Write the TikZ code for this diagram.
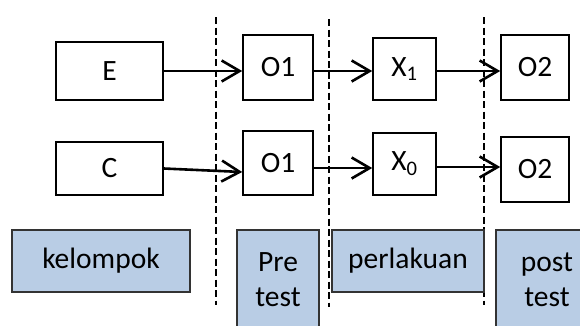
\documentclass[tikz,border=0pt]{standalone}
\usepackage{fontspec}
\setmainfont{Carlito}
\usetikzlibrary{arrows.meta}
\definecolor{labelblue}{HTML}{B9CDE5}

\begin{document}
\begin{tikzpicture}
[x=1pt, y=-1pt,
% Box style
	box/.style={
		draw,
		line width=1.6pt,
		inner sep=0pt,
		font=\fontsize{29.5}{35}\selectfont},
% Label box style
	labelbox/.style={
		box,
		fill=labelblue,
		draw=black!80,
		align=center},
% Line with Arrow style
	arrowline/.style={
		line width=2.6pt,
		-{Straight Barb[length=18pt,width=21pt,line width=2.6pt]}},
% Dashed separator style
	divider/.style={
		line width=2pt,
		dash pattern=on 7pt off 3.5pt},
]

\useasboundingbox (0,0) rectangle (580,325);

% Dashed separators
\coordinate (d1top) at (216,17);
\coordinate (d1bot) at (216,305);
\coordinate (d2top) at (329,19);
\coordinate (d2bot) at (329,307);
\coordinate (d3top) at (484,17);
\coordinate (d3bot) at (484,305);

\draw [divider] (d1top) -- (d1bot);
\draw [divider] (d2top) -- (d2bot);
\draw [divider] (d3top) -- (d3bot);

% Group boxes
\node[box, minimum width=107pt, minimum height=58pt] (E) at (109.5,71) {E};
\node[box, minimum width=107pt, minimum height=53pt] (C) at (109.5,168.5) {C};

% Pre test boxes
\node[box, minimum width=70pt, minimum height=65pt] (O1a) at (278,67.5) {O1};
\node[box, minimum width=70pt, minimum height=64pt] (O1b) at (278,163) {O1};

% Treatment boxes
\node[box, minimum width=63pt, minimum height=62pt] (X1) at (404.5,69) {X\textsubscript{1}};
\node[box, minimum width=63pt, minimum height=62pt] (X0) at (404.5,164) {X\textsubscript{0}};

% Post test boxes
\node[box, minimum width=68pt, minimum height=65pt] (O2a) at (535,67.5) {O2};
\node[box, minimum width=68pt, minimum height=65pt] (O2b) at (535,169.5) {O2};

% Column labels
\node[labelbox, minimum width=178pt, minimum height=62pt] (kelompok) at (101,261) {kelompok};
\node[labelbox, minimum width=82pt, minimum height=100pt] (pretest) at (278,280) {Pre\\test};
\node[labelbox, minimum width=152pt, minimum height=62pt] (perlakuan) at (408,261) {perlakuan};
\node[labelbox, minimum width=102pt, minimum height=100pt] (posttest) at (547,280) {post\\test};

% Arrows, top row
\draw [arrowline] (E.east) -- (O1a.west |- E);
\draw [arrowline] (O1a.east |- E) -- (X1.west |- E);
\draw [arrowline] (X1.east |- E) -- (O2a.west |- E);

% Arrows, bottom row
\draw [arrowline] (C.east) -- ([yshift=-9pt]O1b.west);
\draw [arrowline] ([yshift=-5pt]O1b.east) -- ([yshift=-4pt]X0.west);
\draw [arrowline] ([yshift=-3pt]X0.east) -- ([yshift=2.5pt]O2b.west);

\end{tikzpicture}
\end{document}
